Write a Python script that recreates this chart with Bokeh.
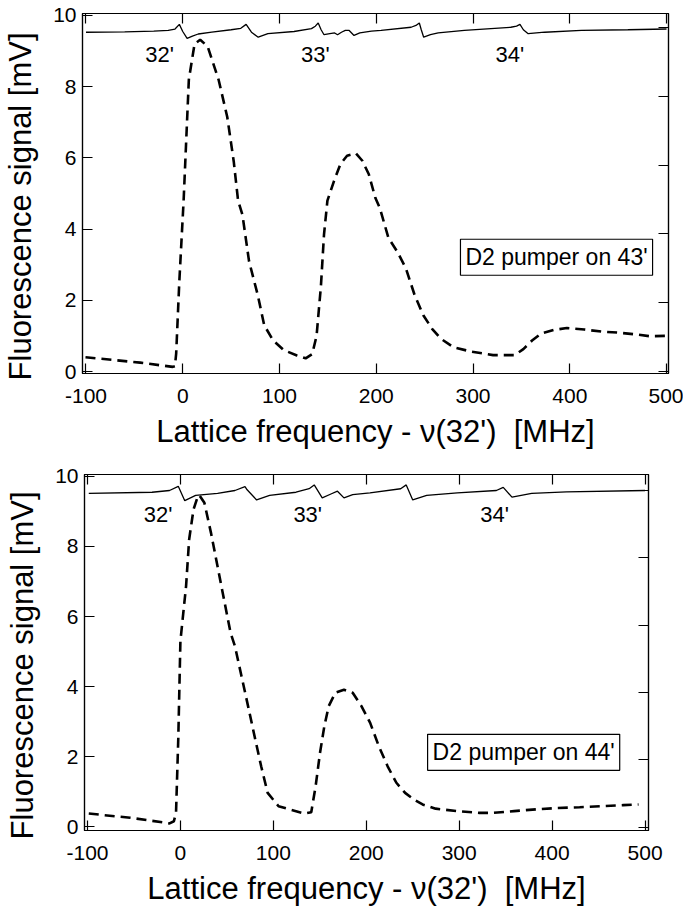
from bokeh.plotting import figure
from bokeh.models import Range1d, LinearAxis, FixedTicker, Label
from bokeh.embed import file_html
from bokeh.resources import INLINE

FONT = "Liberation Sans"

# ---------------- data ----------------
x_ticks = [-100, 0, 100, 200, 300, 400, 500]
y_ticks = [0, 2, 4, 6, 8, 10]
peak_labels = ["32'", "33'", "34'"]
peak_label_x = [-24, 137, 338]

# panel 1 : reference (saturated absorption) trace
ref1_x = [-100, -60, -30, -15, -8, -3.5, 0, 4.5, 10, 16, 30, 50, 60, 65.5, 71, 78, 88, 115,
          133, 137, 140, 143, 146, 152, 157, 160, 164, 168, 172, 177, 183, 195, 205, 236, 241,
          244.5, 246.5, 249, 256, 264, 291, 339, 345, 348.5, 352, 357, 374, 412, 460, 500]
ref1_y = [9.53, 9.54, 9.56, 9.58, 9.62, 9.75, 9.55, 9.36, 9.42, 9.48, 9.53, 9.6, 9.64, 9.75,
          9.53, 9.39, 9.49, 9.55, 9.63, 9.7, 9.79, 9.6, 9.46, 9.49, 9.51, 9.46, 9.53, 9.58,
          9.58, 9.44, 9.51, 9.56, 9.58, 9.67, 9.72, 9.79, 9.6, 9.39, 9.46, 9.51, 9.58, 9.67,
          9.7, 9.75, 9.6, 9.49, 9.53, 9.58, 9.6, 9.62]

# panel 1 : fluorescence signal, D2 pumper on 43'
sig1_x = [-100.5, -44, -10.4, -8.1, -6.8, -3.6, 0.9, 6.3, 12.2, 18, 25.7, 37, 46, 52.7, 57.2,
          61.7, 68.5, 77.5, 84.2, 93.2, 104.5, 118, 127, 133.8, 138.3, 142.8, 146, 149.5,
          156.3, 163, 169.8, 178.8, 185.6, 192.3, 199, 203.6, 212.6, 221.6, 230.6, 239.6,
          248.6, 257.7, 266.7, 280, 298, 320.7, 343.2, 352, 361, 370, 383.8, 397, 415, 433,
          451, 469, 483, 498.6]
sig1_y = [0.40, 0.25, 0.13, 0.15, 0.5, 2.5, 4.8, 8.2, 9.2, 9.32, 9.13, 8.2, 7.15, 5.9, 4.8,
          4.4, 3.1, 2.15, 1.3, 0.88, 0.6, 0.45, 0.37, 0.49, 1.0, 2.4, 3.85, 4.8,
          5.35, 5.83, 6.06, 6.13, 5.92, 5.54, 4.88, 4.6, 3.75, 3.37, 2.9, 2.15,
          1.58, 1.2, 0.92, 0.68, 0.56, 0.46, 0.46, 0.63, 0.87, 1.06, 1.17, 1.22, 1.18, 1.12,
          1.09, 1.04, 0.99, 1.0]

# panel 2 : reference trace
ref2_x = [-98.6, -30.5, -11.7, -2.3, 4.7, 16.4, 40, 58.7, 69.5, 71.8, 82, 96, 124.4, 138.5,
          144, 152.6, 162, 169, 176, 185.4, 204, 237, 243, 250, 265, 298, 340, 347.4, 356.8,
          378, 415.5, 500]
ref2_y = [9.52, 9.55, 9.6, 9.72, 9.31, 9.46, 9.52, 9.6, 9.71, 9.62, 9.33, 9.46, 9.55, 9.65,
          9.76, 9.39, 9.5, 9.58, 9.39, 9.48, 9.53, 9.65, 9.76, 9.33, 9.46, 9.53, 9.6, 9.69,
          9.41, 9.52, 9.56, 9.6]

# panel 2 : fluorescence signal, D2 pumper on 44'
sig2_x = [-98.6, -54, -11.7, -7, -4.7, -2.3, 0, 6.1, 9.4, 14.1, 18.8, 20.2, 25.8, 32.9, 39.9,
          46.9, 54, 58.7, 65.7, 72.8, 79.8, 86.9, 93.9, 105.6, 119.7, 133.8, 140.8, 145.5,
          150.2, 154.9, 159.6, 166.7, 176, 185.4, 194.8, 204.2, 213.6, 223, 232.4, 241.8,
          251.2, 260.6, 274.6, 298, 321.6, 335.7, 359, 382.6, 406, 429.6, 453, 476.5, 493]
sig2_y = [0.37, 0.25, 0.09, 0.15, 0.4, 2.5, 5.3, 6.87, 8.2, 9.06, 9.44, 9.47, 9.25, 8.39, 7.44,
          6.49, 5.53, 5.15, 4.3, 3.44, 2.58, 1.72, 0.96, 0.58, 0.47, 0.37, 0.41, 1.15,
          2.1, 2.87, 3.44, 3.82, 3.91, 3.82, 3.44, 2.96, 2.29, 1.72, 1.25, 0.96,
          0.77, 0.63, 0.51, 0.44, 0.39, 0.39, 0.44, 0.49, 0.53, 0.55, 0.58, 0.61, 0.63]

legend1 = "D2 pumper on 43'"
legend2 = "D2 pumper on 44'"

XLABEL = "Lattice frequency - \u03bd(32') \u00a0[MHz]"
YLABEL = "Fluorescence signal [mV]\u00a0\u00a0\u00a0"


def style_axis(ax, ticks, labels=True):
    ax.axis_line_color = "black"
    ax.axis_line_width = 1.2
    ax.major_tick_line_color = "black"
    ax.major_tick_line_width = 1.2
    ax.major_tick_in = 10
    ax.major_tick_out = 0
    ax.minor_tick_in = 0
    ax.minor_tick_out = 0
    if labels:
        ax.major_label_text_font = FONT
        ax.major_label_text_font_size = "21px"
        ax.major_label_text_color = "black"
        ax.axis_label_text_font = FONT
        ax.axis_label_text_font_size = "31px"
        ax.axis_label_text_font_style = "normal"
        ax.axis_label_text_color = "black"
        ax.major_label_overrides = {t: (f"-{abs(t)}" if t < 0 else str(t)) for t in ticks}
    else:
        ax.major_label_overrides = {t: "" for t in ticks}
        ax.major_label_standoff = 0
        ax.axis_label_standoff = 0


def panel(height, borders, xr, yr, yr_right, rx, ry, sx, sy, leg_text, leg_x, leg_y):
    bl, br, bt, bb = borders
    p = figure(width=683, height=height, x_range=Range1d(*xr), y_range=Range1d(*yr),
               output_backend="svg", toolbar_location=None,
               min_border_left=bl, min_border_right=br, min_border_top=bt, min_border_bottom=bb)
    p.extra_y_ranges = {"r": Range1d(*yr_right)}
    p.grid.visible = False
    p.outline_line_color = "black"
    p.outline_line_width = 1.2
    p.background_fill_color = "white"
    p.border_fill_color = "white"

    xa = p.xaxis[0]
    xa.ticker = FixedTicker(ticks=x_ticks)
    style_axis(xa, x_ticks)
    xa.axis_label = XLABEL
    xa.major_label_standoff = 15
    xa.axis_label_standoff = 8

    ya = p.yaxis[0]
    ya.ticker = FixedTicker(ticks=y_ticks)
    style_axis(ya, y_ticks)
    ya.axis_label = YLABEL
    ya.major_label_standoff = 6
    ya.axis_label_standoff = 12

    top = LinearAxis(ticker=FixedTicker(ticks=x_ticks))
    style_axis(top, x_ticks, labels=False)
    p.add_layout(top, "above")
    right = LinearAxis(y_range_name="r", ticker=FixedTicker(ticks=y_ticks))
    style_axis(right, y_ticks, labels=False)
    p.add_layout(right, "right")

    p.line(rx, ry, line_color="black", line_width=1.3)
    p.line(sx, sy, line_color="black", line_width=2.6, line_dash="10 6")

    for t, xv in zip(peak_labels, peak_label_x):
        p.add_layout(Label(x=xv, y=8.9, text=t, text_align="center", text_baseline="alphabetic",
                           text_font=FONT, text_font_size="22px", text_color="black"))
    p.add_layout(Label(x=leg_x, y=leg_y, text=leg_text, text_align="left", text_baseline="middle",
                       text_font=FONT, text_font_size="23px", text_color="black",
                       border_line_color="black", border_line_width=1.2,
                       background_fill_color="white", padding=5))
    return p


p1 = panel(452, (82, 15, 13, 79), (-103.6, 502), (-0.056, 10.056), (-0.05, 10.4),
           ref1_x, ref1_y, sig1_x, sig1_y, legend1, 287, 3.21)
p2 = panel(456, (84, 35, 22, 78), (-103.2, 503.7), (-0.114, 10.057), (-0.1, 10.47),
           ref2_x, ref2_y, sig2_x, sig2_y, legend2, 266, 2.12)

open("out.html", "w").write(file_html([p1, p2], INLINE))
